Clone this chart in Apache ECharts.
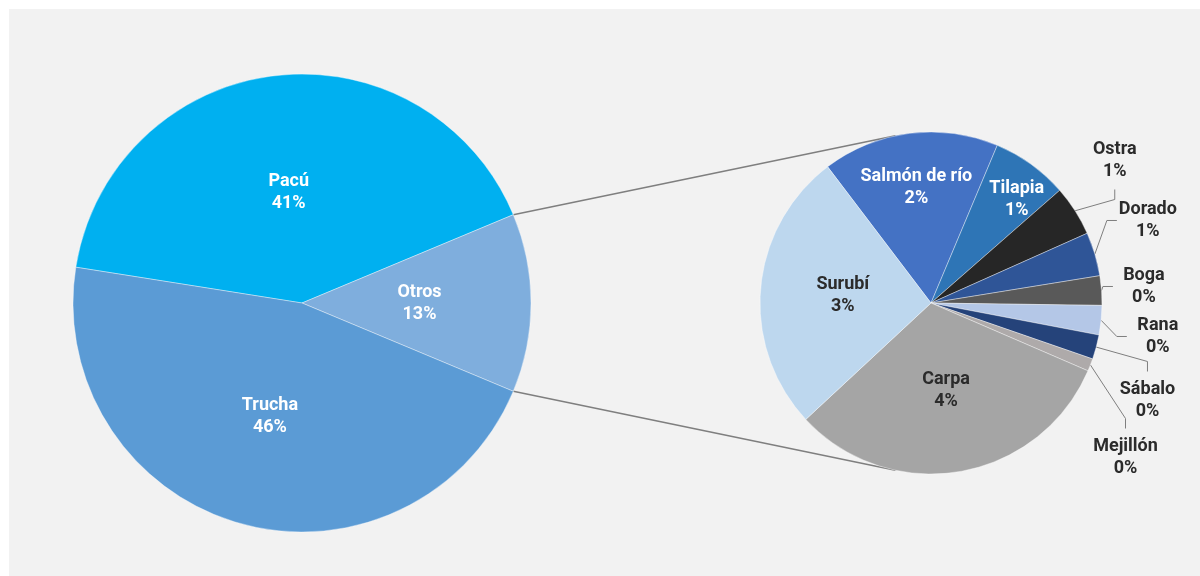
<!DOCTYPE html>
<html><head><meta charset="utf-8">
<script src="https://cdn.jsdelivr.net/npm/echarts@6/dist/echarts.min.js"></script>
<style>html,body{margin:0;padding:0;background:#fff}#c{width:1200px;height:576px}</style>
</head><body><div id="c"></div>
<script>
// ---- data ----
const mainNames = ['Pacú', 'Otros', 'Trucha'];
const mainValues = [41.2, 12.6, 46.2];
const subNames = ['Salmón de río', 'Tilapia', 'Ostra', 'Dorado', 'Boga', 'Rana', 'Sábalo', 'Mejillón', 'Carpa', 'Surubí'];
const subValues = [2.1, 0.91, 0.6, 0.52, 0.35, 0.35, 0.29, 0.15, 3.98, 3.35];

// ---- styles ----
const FONT = 'Roboto, "Noto Sans", sans-serif';
const DARK = '#2b2b2b';
const mainColors = { 'Pacú': '#00B0F0', 'Otros': '#7FAEDD', 'Trucha': '#5B9BD5' };
const subColors = {
  'Salmón de río': '#4472C4', 'Tilapia': '#2E75B6', 'Ostra': '#262626', 'Dorado': '#2F5597',
  'Boga': '#595959', 'Rana': '#B4C7E7', 'Sábalo': '#25437A', 'Mejillón': '#AEAAAA',
  'Carpa': '#A5A5A5', 'Surubí': '#BDD7EE'
};
const insideText = { 'Salmón de río': '#ffffff', 'Tilapia': '#ffffff', 'Surubí': DARK, 'Carpa': DARK };
const radialFactor = { 'Pacú': 0.475, 'Salmón de río': 0.665, 'Tilapia': 0.73 };
const insideNudgeX = { 'Tilapia': 11 };
const outerNudge = { 'Ostra': [-13, 0], 'Boga': [-7, 6], 'Rana': [8, -4], 'Mejillón': [-17, -3] };
const L_CENTER = [302, 303], L_R = 229;
const R_CENTER = [931, 303], R_R = 171;
const SUB_START = 127.2;
const CONNECT_ANGLE = 102; // degrees on the small pie where the connectors meet
const OUTER_SHIFT = -46;   // lift of the outside label column

const total = mainValues.reduce((a, b) => a + b, 0);
const otrosIdx = mainNames.indexOf('Otros');
const before = mainValues.slice(0, otrosIdx).reduce((a, b) => a + b, 0);
const mainStart = (before + mainValues[otrosIdx] / 2) / total * 360;

function midAngles(vals, start) {
  const s = vals.reduce((a, b) => a + b, 0);
  let cum = 0;
  return vals.map(v => { const m = start - (cum + v / 2) / s * 360; cum += v; return m; });
}
const mids = [midAngles(mainValues, mainStart), midAngles(subValues, SUB_START)];
const radii = [L_R, R_R];
const namesBySeries = [mainNames, subNames];

const pct = v => Math.round(v) + '%';
const border = { borderColor: 'rgba(255,255,255,0.55)', borderWidth: 0.7 };

const mainData = mainNames.map((n, i) => ({
  name: n, value: mainValues[i], itemStyle: Object.assign({ color: mainColors[n] }, border)
}));

const subData = subNames.map((n, i) => {
  const inside = n in insideText;
  return {
    name: n, value: subValues[i],
    itemStyle: Object.assign({ color: subColors[n] }, border),
    label: inside ? {
      position: 'inside', color: insideText[n],
      formatter: p => p.name + '\n' + pct(p.value)
    } : {
      position: 'outside',
      formatter: p => '{t|' + p.name + '}\n{t|' + pct(p.value) + '}',
      rich: { t: { fontFamily: FONT, fontSize: 18, fontWeight: 'bold', color: DARK, lineHeight: 22, width: 62, align: 'center' } },
      padding: [7, 0, 7, 0]
    },
    labelLine: { show: !inside }
  };
});

const labelBase = { fontFamily: FONT, fontSize: 18, fontWeight: 'bold', lineHeight: 22 };

function layoutLabels(params) {
  const si = params.seriesIndex;
  const name = namesBySeries[si][params.dataIndex];
  const f = radialFactor[name];
  if (f != null) {
    // radial nudge of an inside label (offset is applied twice by the host text config)
    const a = mids[si][params.dataIndex] * Math.PI / 180;
    const d = (f - 0.5) * radii[si] / 2;
    const nx = (insideNudgeX[name] || 0) / 2;
    return { dx: d * Math.cos(a) + nx, dy: -d * Math.sin(a) };
  }
  if (si === 1 && !(name in insideText)) {
    const r = params.labelRect;
    const nd = outerNudge[name] || [0, 0];
    return { x: r.x + nd[0], y: r.y + r.height / 2 + OUTER_SHIFT + nd[1] };
  }
}

const chart = echarts.init(document.getElementById('c'), null, { renderer: 'canvas' });
chart.setOption({
  animation: false,
  backgroundColor: '#ffffff',
  graphic: [{ id: 'bg', type: 'rect', z: -100, silent: true, shape: { x: 9, y: 9, width: 1191, height: 567 }, style: { fill: '#f2f2f2' } }],
  series: [
    {
      type: 'pie', center: L_CENTER, radius: L_R, startAngle: mainStart, clockwise: true,
      data: mainData, silent: true,
      label: Object.assign({ position: 'inside', color: '#ffffff', formatter: p => p.name + '\n' + pct(p.value) }, labelBase),
      labelLine: { show: false },
      labelLayout: layoutLabels
    },
    {
      type: 'pie', center: R_CENTER, radius: R_R, startAngle: SUB_START, clockwise: true,
      data: subData, silent: true,
      avoidLabelOverlap: true,
      label: Object.assign({ color: DARK }, labelBase),
      labelLine: { length: 8, length2: 10, lineStyle: { color: '#7f7f7f', width: 1 } },
      labelLayout: layoutLabels
    }
  ]
});

// connectors from the library's own pie layouts
(function () {
  const model = chart.getModel();
  const L = model.getSeriesByIndex(0).getData().getItemLayout(otrosIdx);
  const R = model.getSeriesByIndex(1).getData().getItemLayout(0);
  const pts = [L.startAngle, L.endAngle].map(a => [L.cx + L.r * Math.cos(a), L.cy + L.r * Math.sin(a)]);
  pts.sort((a, b) => a[1] - b[1]);
  const t = CONNECT_ANGLE * Math.PI / 180;
  const top = [R.cx + R.r * Math.cos(t), R.cy - R.r * Math.sin(t)];
  const bot = [R.cx + R.r * Math.cos(t), R.cy + R.r * Math.sin(t)];
  const ls = { stroke: '#7f7f7f', lineWidth: 1.5 };
  chart.setOption({
    graphic: [
      { id: 'c1', type: 'line', z: 0, silent: true, shape: { x1: pts[0][0], y1: pts[0][1], x2: top[0], y2: top[1] }, style: ls },
      { id: 'c2', type: 'line', z: 0, silent: true, shape: { x1: pts[1][0], y1: pts[1][1], x2: bot[0], y2: bot[1] }, style: ls }
    ]
  });
})();
</script></body></html>
